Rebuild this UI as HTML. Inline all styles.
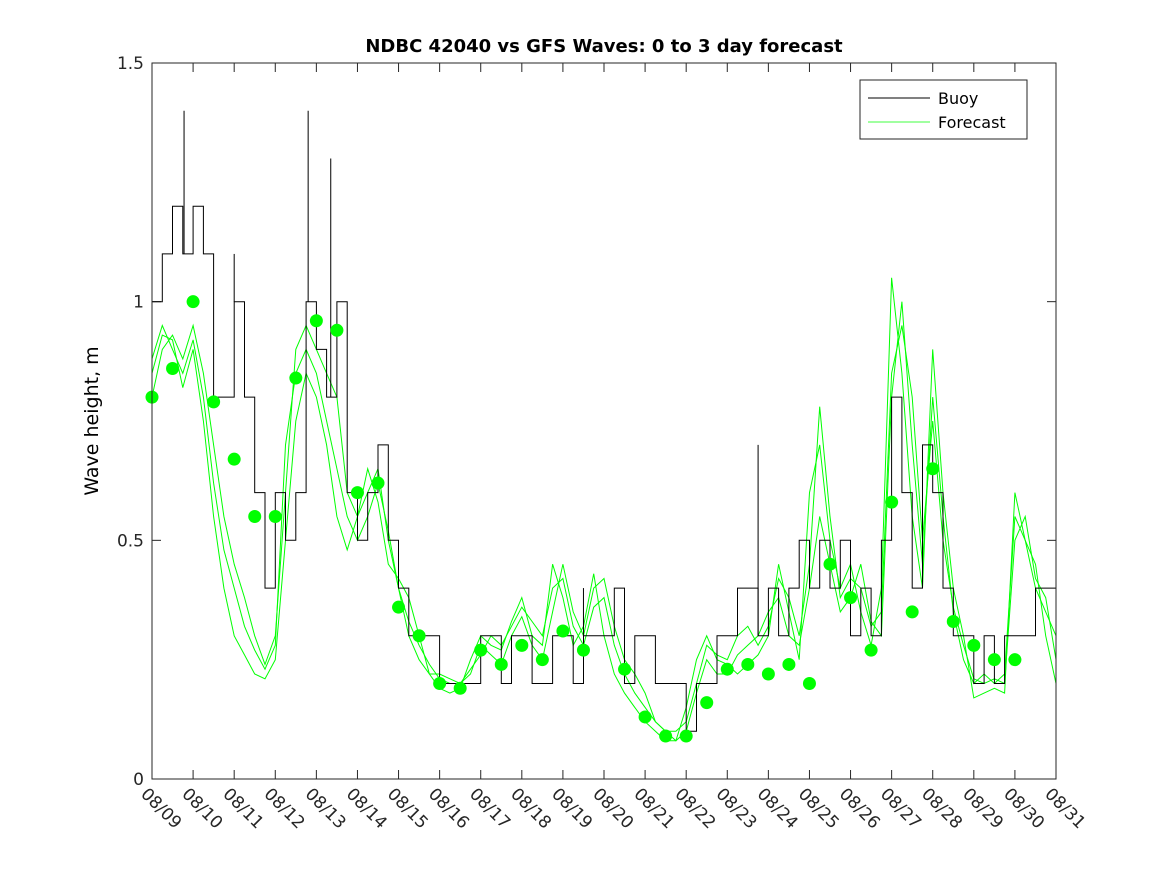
<!DOCTYPE html>
<html><head><meta charset="utf-8"><style>
body{margin:0;background:#fff}
svg{display:block;font-family:"DejaVu Sans","Liberation Sans",sans-serif}
</style></head><body>
<svg id="chart" width="1167" height="875" viewBox="0 0 1167 875">
<rect width="1167" height="875" fill="#fff"/>
<text x="604" y="52" text-anchor="middle" font-size="18" font-weight="bold">NDBC 42040 vs GFS Waves: 0 to 3 day forecast</text>
<text transform="translate(98,421) rotate(-90)" text-anchor="middle" font-size="19">Wave height, m</text>
<g id="plot"></g>
<rect x="152" y="63" width="904" height="716" fill="none" stroke="#262626" stroke-width="1"/>
<g>
<rect x="860" y="80" width="167" height="59" fill="#fff" stroke="#262626"/>
<line x1="868" y1="98" x2="930" y2="98" stroke="#000"/>
<text x="938" y="104" font-size="16">Buoy</text>
<line x1="868" y1="122" x2="930" y2="122" stroke="#00ff00" stroke-width="0.7"/>
<text x="938" y="128" font-size="16">Forecast</text>
</g>
</svg>
<script>
const dateLabels=["08/09","08/10","08/11","08/12","08/13","08/14","08/15","08/16","08/17","08/18","08/19","08/20","08/21","08/22","08/23","08/24","08/25","08/26","08/27","08/28","08/29","08/30","08/31"];
const yTicks=[0,0.5,1,1.5];
const buoy=[1.0,1.1,1.2,1.1, 1.2,1.1,0.8,0.8, 1.0,0.8,0.6,0.4, 0.6,0.5,0.6,1.0, 0.9,0.8,1.0,0.6, 0.5,0.6,0.7,0.5, 0.4,0.3,0.3,0.3, 0.2,0.2,0.2,0.2, 0.3,0.3,0.2,0.3, 0.3,0.2,0.2,0.3, 0.3,0.2,0.3,0.3, 0.3,0.4,0.2,0.3, 0.3,0.2,0.2,0.2, 0.1,0.2,0.2,0.3, 0.3,0.4,0.4,0.3, 0.4,0.3,0.4,0.5, 0.4,0.5,0.4,0.5, 0.3,0.4,0.3,0.5, 0.8,0.6,0.4,0.7, 0.6,0.4,0.3,0.3, 0.2,0.3,0.2,0.3, 0.3,0.3,0.4,0.4];
const buoySpikeDays=[0.78,3.8,4.35,14.75,2.0,10.5,1.2];
const buoySpikeVals=[1.4,1.4,1.3,0.7,1.1,0.4,1.2];
const fc1=[0.80,0.90,0.93,0.88,0.95,0.85,0.70,0.55,0.45,0.38,0.30,0.24,0.30,0.60,0.90,0.95,0.90,0.85,0.80,0.60,0.55,0.60,0.65,0.50,0.40,0.33,0.28,0.24,0.21,0.20,0.20,0.22,0.28,0.26,0.24,0.30,0.34,0.28,0.25,0.35,0.45,0.35,0.30,0.40,0.42,0.32,0.25,0.22,0.18,0.12,0.10,0.08,0.10,0.18,0.25,0.22,0.22,0.26,0.28,0.30,0.35,0.38,0.30,0.28,0.40,0.55,0.45,0.35,0.38,0.45,0.33,0.30,0.80,1.00,0.70,0.45,0.80,0.55,0.35,0.25,0.20,0.22,0.20,0.22,0.55,0.50,0.40,0.35,0.30];
const fc2=[0.85,0.93,0.92,0.82,0.90,0.75,0.55,0.40,0.30,0.26,0.22,0.21,0.25,0.50,0.75,0.85,0.80,0.70,0.55,0.48,0.55,0.65,0.58,0.45,0.42,0.38,0.30,0.22,0.19,0.18,0.19,0.25,0.30,0.28,0.27,0.33,0.38,0.30,0.28,0.45,0.38,0.28,0.32,0.43,0.30,0.22,0.18,0.15,0.12,0.10,0.08,0.08,0.15,0.25,0.30,0.25,0.24,0.22,0.24,0.26,0.30,0.45,0.35,0.25,0.60,0.70,0.50,0.40,0.45,0.35,0.28,0.40,1.05,0.85,0.55,0.40,0.90,0.60,0.40,0.30,0.17,0.18,0.19,0.18,0.60,0.50,0.45,0.30,0.20];
const fc3=[0.88,0.95,0.90,0.85,0.92,0.80,0.62,0.48,0.40,0.32,0.27,0.23,0.28,0.70,0.85,0.90,0.85,0.75,0.65,0.55,0.50,0.55,0.62,0.52,0.40,0.30,0.25,0.22,0.22,0.21,0.20,0.23,0.26,0.30,0.28,0.32,0.36,0.33,0.30,0.40,0.42,0.32,0.28,0.36,0.38,0.28,0.22,0.18,0.15,0.12,0.10,0.10,0.12,0.20,0.28,0.26,0.25,0.30,0.32,0.28,0.32,0.42,0.38,0.30,0.45,0.78,0.55,0.38,0.42,0.40,0.32,0.35,0.85,0.95,0.80,0.50,0.75,0.50,0.36,0.28,0.21,0.20,0.21,0.20,0.50,0.55,0.42,0.38,0.25];
const dotDays=[0,0.5,1,1.5,2,2.5,3,3.5,4,4.5,5,5.5,6,6.5,7,7.5,8,8.5,9,9.5,10,10.5,11.5,12,12.5,13,13.5,14,14.5,15,15.5,16,16.5,17,17.5,18,18.5,19,19.5,20,20.5,21];
const dotVals=[0.80,0.86,1.00,0.79,0.67,0.55,0.55,0.84,0.96,0.94,0.60,0.62,0.36,0.30,0.20,0.19,0.27,0.24,0.28,0.25,0.31,0.27,0.23,0.13,0.09,0.09,0.16,0.23,0.24,0.22,0.24,0.20,0.45,0.38,0.27,0.58,0.35,0.65,0.33,0.28,0.25,0.25];

const X0=152,X1=1056,Y0=779,Y1=63,NDAYS=22,YMAX=1.5;
const xs=d=>X0+(X1-X0)*d/NDAYS;
const ys=v=>Y0-(Y0-Y1)*v/YMAX;
const NS="http://www.w3.org/2000/svg";
const plot=document.getElementById('plot');
function mk(tag,attrs){const e=document.createElementNS(NS,tag);for(const k in attrs)e.setAttribute(k,attrs[k]);plot.appendChild(e);return e;}

yTicks.forEach(v=>{
  const y=ys(v);
  const t=mk('text',{x:X0-8,y:y+6,'text-anchor':'end','font-size':'17',fill:'#262626'});
  t.textContent=String(v);
  
  
  mk('line',{x1:X0,y1:y,x2:X0+9,y2:y,stroke:'#262626'});
  mk('line',{x1:X1,y1:y,x2:X1-9,y2:y,stroke:'#262626'});
});
dateLabels.forEach((s,i)=>{
  const x=xs(i);
  mk('line',{x1:x,y1:Y0,x2:x,y2:Y0-9,stroke:'#262626'});
  mk('line',{x1:x,y1:Y1,x2:x,y2:Y1+9,stroke:'#262626'});
  const t=mk('text',{x:0,y:0,'font-size':'17',fill:'#262626',transform:`translate(${x-12},${Y0+16}) rotate(45)`});
  t.textContent=s;
  
  
});

[fc1,fc2,fc3].forEach((arr,k)=>{
  const p=arr.map((v,i)=>`${i?'L':'M'}${xs(i/4).toFixed(1)},${ys(v).toFixed(1)}`).join('');
  const e=mk('path',{d:p,fill:'none',stroke:'#00ff00','stroke-width':'1'});
  
  
});

let d='';
buoy.forEach((v,i)=>{
  const xa=xs(i/4),xb=xs((i+1)/4),y=ys(v);
  d+=(i?`L${xa.toFixed(1)},${y.toFixed(1)}`:`M${xa.toFixed(1)},${y.toFixed(1)}`)+`L${xb.toFixed(1)},${y.toFixed(1)}`;
});
const b=mk('path',{d:d,fill:'none',stroke:'#000','stroke-width':'1'});


buoySpikeDays.forEach((dd,i)=>{
  const idx=Math.min(buoy.length-1,Math.floor(dd*4));
  const s=mk('line',{x1:xs(dd),y1:ys(buoy[idx]),x2:xs(dd),y2:ys(buoySpikeVals[i]),stroke:'#000'});
  
  
});

dotDays.forEach((dd,i)=>{
  const c=mk('circle',{cx:xs(dd),cy:ys(dotVals[i]),r:6.5,fill:'#00ff00'});
  
  
});
</script>
</body></html>
